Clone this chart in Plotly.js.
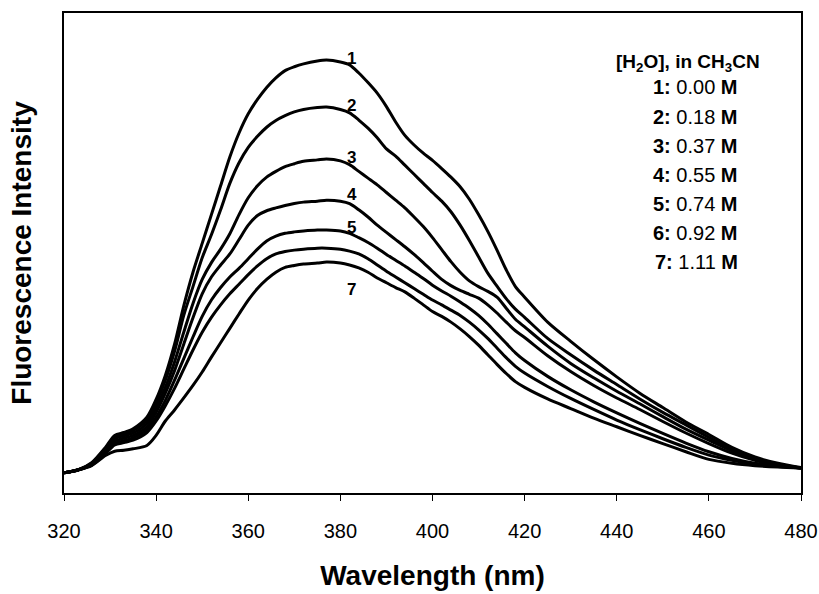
<!DOCTYPE html>
<html>
<head>
<meta charset="utf-8">
<script src="https://cdn.plot.ly/plotly-3.0.1.min.js"></script>
<style>
  html, body { margin: 0; padding: 0; background: #fff; }
  #chart { width: 819px; height: 594px; }
</style>
</head>
<body>
<div id="chart"></div>
<script>
// Wavelength grid (nm)
const wavelength = [320,323,326,329,331,333,335,338,340,342,344,346,348,350,352,354,356,358,360,362,364,366,368,370,372,375,377,380,382,384,386,388,390,392,394,396,398,400,402,404,406,408,410,412,414,416,418,420,425,430,435,440,445,450,455,460,465,470,475,480];

// Fluorescence intensity (arbitrary units), curves 1..7
const curve1 = [4.2,4.8,6.3,9.5,12.0,12.6,13.4,15.8,19.5,24.5,31,39,46,52,58,64,70,75,79,82,84.5,86.5,88,88.8,89.4,90.0,90.2,89.8,89.2,87.5,85.5,83.3,80.5,77.3,74.5,72.5,70.8,69.3,67.6,65.8,63.8,61.2,58,54.5,50.6,46.5,43,40.8,35.6,31.6,27.8,24.2,20.8,17.8,14.8,12.2,9.5,7.5,6.2,5.3];
const curve2 = [4.2,4.8,6.2,9.3,11.7,12.3,13.0,15.2,18.8,23.5,29.5,37,43,49,53.8,59,64.5,68.8,72,74.3,76.2,77.6,78.6,79.4,79.9,80.3,80.4,79.9,79.2,77.7,76,74,71.7,70.2,68.3,66.4,64.5,62.6,60.8,58.6,55.8,52.6,49.2,45.8,43.1,40.5,38.3,36.6,32.2,28.8,25.6,22.6,19.6,16.8,14.2,11.6,9.1,7.2,6.0,5.2];
const curve3 = [4.2,4.8,6.1,9.0,11.3,11.9,12.5,14.5,17.8,22,27.3,33.5,39.5,44.5,48,50.8,54,58,61.5,64,65.8,67,68,68.6,69.1,69.4,69.6,69.2,68.4,67,65.6,64.2,62.6,61,59.4,57.5,55.5,53.2,50.7,48.2,46,44.2,43,42,40.8,38.5,36.2,34.6,30.6,27.0,24.0,21.2,18.6,15.9,13.3,11.0,8.8,7.0,5.9,5.2];
const curve4 = [4.2,4.8,6.0,8.7,10.8,11.4,12.0,13.8,16.8,20.8,25.5,31,36.5,41.5,45,47.5,49.8,52.8,55.8,57.8,58.8,59.4,59.9,60.3,60.6,60.8,61.0,60.8,60.3,59.0,57.5,55.8,54.3,52.8,51.3,49.7,48.0,46.2,44.5,43.2,42.2,41.4,40.6,39.2,37.5,35.6,33.8,32.4,28.6,25.3,22.4,19.8,17.4,14.9,12.5,10.3,8.3,6.8,5.8,5.2];
const curve5 = [4.2,4.8,5.9,8.4,10.3,10.9,11.5,13.2,15.8,19.3,23.5,28,32.5,36.8,40.2,42.8,45.0,46.8,48.8,50.8,52.5,53.5,54.1,54.4,54.6,54.8,54.8,54.6,54.1,53.2,52.2,51.0,49.7,48.5,47.3,46.0,44.7,43.3,42.1,41.0,39.8,38.5,37.0,35.2,33.2,31.2,29.2,27.6,24.3,21.5,19.0,16.7,14.5,12.4,10.4,8.6,7.2,6.2,5.6,5.2];
const curve6 = [4.2,4.8,5.8,8.2,10.0,10.5,11.0,12.6,15.0,18.2,21.8,25.8,29.8,33.5,36.6,39.2,41.5,43.5,45.5,47.3,48.8,49.8,50.3,50.6,50.8,51.0,51.0,50.8,50.4,49.8,48.8,47.5,46.2,45.0,43.8,42.6,41.4,40.2,39.2,38.1,37.0,35.6,34.0,32.2,30.2,28.2,26.4,25.0,22.2,19.7,17.4,15.2,13.2,11.3,9.5,7.9,6.8,6.0,5.5,5.2];
const curve7 = [4.2,4.8,5.7,7.8,8.7,8.9,9.2,9.9,12.0,15.0,17.3,19.8,22.4,25.2,28.3,31.3,34.3,37.3,40.2,42.6,44.5,46.0,47.0,47.4,47.7,47.9,48.1,47.9,47.5,46.9,46.0,44.8,43.8,42.8,41.9,40.6,39.2,37.8,36.8,35.6,34.2,32.6,30.8,28.8,26.8,24.9,23.2,22.0,19.6,17.6,15.6,13.8,12.0,10.3,8.6,7.0,6.2,5.7,5.4,5.2];

const curveIds = ['1','2','3','4','5','6','7'];
const concentrations = ['0.00','0.18','0.37','0.55','0.74','0.92','1.11'];
const xTicks = [320,340,360,380,400,420,440,460,480];

const series = [curve1,curve2,curve3,curve4,curve5,curve6,curve7];
const FONT = 'Liberation Sans, Arial, Helvetica, sans-serif';

const traces = series.map((ys, i) => ({
  x: wavelength, y: ys, type: 'scatter', mode: 'lines',
  name: curveIds[i],
  line: {color: '#000', width: 3, shape: 'spline', smoothing: 0.8},
  hoverinfo: 'skip', showlegend: false
}));

// Curve number labels (placed near each peak; label 6 is absent in the original)
const labelPos = {'1':90.6,'2':80.8,'3':70,'4':62.1,'5':55.4,'7':42.3};
const annotations = [];
Object.keys(labelPos).forEach(k => {
  annotations.push({x: 382.5, y: labelPos[k], xref: 'x', yref: 'y', text: '<b>'+k+'</b>',
    showarrow: false, font: {family: FONT, size: 17, color: '#000'}, xanchor: 'center', yanchor: 'middle'});
});

// Legend block text
annotations.push({x: (762-64)/737, y: (493-63)/480, xref: 'paper', yref: 'paper',
  text: '<b>[H<sub>2</sub>O], in CH<sub>3</sub>CN</b>', showarrow: false,
  xanchor: 'right', yanchor: 'middle', font: {family: FONT, size: 19, color: '#000'}});
const legendY = [87,117,146,175,204,233,262];
curveIds.forEach((id, i) => {
  annotations.push({x: (740-64)/737, y: (493-legendY[i])/480, xref: 'paper', yref: 'paper',
    text: '<b>'+id+':</b> '+concentrations[i]+' <b>M</b>', showarrow: false,
    xanchor: 'right', yanchor: 'middle', font: {family: FONT, size: 20, color: '#000'}});
});

const layout = {
  width: 819, height: 594,
  margin: {l: 64, r: 18, t: 13, b: 101},
  paper_bgcolor: '#fff', plot_bgcolor: '#fff',
  showlegend: false,
  font: {family: FONT, color: '#000'},
  xaxis: {
    range: [320, 480], tickvals: xTicks, ticktext: xTicks.map(String),
    ticks: 'outside', ticklen: 6, tickwidth: 1, tickcolor: '#000',
    showline: true, linecolor: '#000', linewidth: 2, mirror: true,
    showgrid: false, zeroline: false,
    tickfont: {family: FONT, size: 20, color: '#000'},
    ticklabelstandoff: 13,
    title: {text: '<b>Wavelength (nm)</b>', font: {family: FONT, size: 28, color: '#000'}, standoff: 24}
  },
  yaxis: {
    range: [0, 100], showticklabels: false, ticks: '',
    showline: true, linecolor: '#000', linewidth: 2, mirror: true,
    showgrid: false, zeroline: false,
    title: {text: '<b>Fluorescence Intensity</b>', font: {family: FONT, size: 28, color: '#000'}, standoff: 22}
  },
  annotations: annotations
};

Plotly.newPlot('chart', traces, layout, {staticPlot: true, displayModeBar: false});
</script>
</body>
</html>
